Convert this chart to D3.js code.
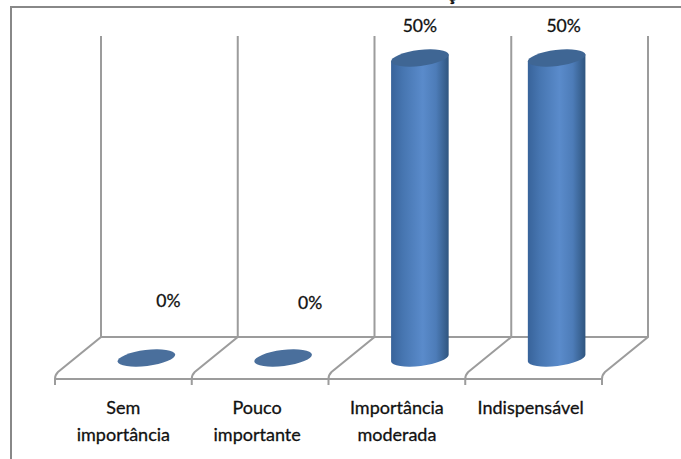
<!DOCTYPE html>
<html lang="pt">
<head>
<meta charset="utf-8">
<title>Grau de importância</title>
<script src="https://cdn.jsdelivr.net/npm/d3@7"></script>
<style>
  html, body { margin: 0; padding: 0; background: #fff; }
  svg { display: block; }
  text { font-family: Lato, "Open Sans", sans-serif; fill: #111; stroke: #111; stroke-width: 0.3px; }
</style>
</head>
<body>
<svg id="chart" width="681" height="459"></svg>
<script>
// Chart data
const categories = ["Sem importância", "Pouco importante", "Importância moderada", "Indispensável"];
const categoryLines = [["Sem", "importância"], ["Pouco", "importante"], ["Importância", "moderada"], ["Indispensável"]];
const percentages = [0, 0, 50, 50];
const valueLabels = ["0%", "0%", "50%", "50%"];

const svg = d3.select("#chart");
const gridColor = "#9c9c9c";

// Outer frame: only the top and left edges fall inside the page
svg.append("path")
  .attr("d", "M681,7H11V459")
  .attr("fill", "none").attr("stroke", "#888").attr("stroke-width", 2);

// End of the heading, cut off by the top of the page
svg.append("text")
  .attr("x", 451.5).attr("y", 1)
  .attr("text-anchor", "middle")
  .attr("font-size", 19).attr("font-weight", 700)
  .text("ç");

// Pseudo-3D floor: front edge is the band scale, back wall is shifted up and right
const frontY = 379, backY = 337, depthX = 46;
const x = d3.scaleBand().domain(categories).range([55, 602]);
const y = d3.scaleLinear().domain([0, 50]).range([358, 58]);
const edges = categories.map(c => x(c)).concat(x.range()[1]);

const grid = svg.append("g").attr("fill", "none").attr("stroke", gridColor).attr("stroke-width", 2);
grid.append("path").attr("d", `M${edges[0] + depthX},${backY}H${edges[4] + depthX}`);
grid.append("path").attr("d", `M${edges[0]},${frontY}H${edges[4]}`);
grid.selectAll("path.edge")
  .data(edges)
  .join("path")
  .attr("class", "edge")
  .attr("d", e => `M${e + depthX},36V${backY}L${e + 3},${frontY - 7}Q${e},${frontY - 4} ${e},${frontY}V385`);

// Cylinder side shading
const defs = svg.append("defs");
const shade = defs.append("linearGradient").attr("id", "cylinderSide");
[[0, "#38639a"], [0.2, "#4675b0"], [0.55, "#5a8bcb"], [0.78, "#4d7cb8"], [1, "#2f557f"]]
  .forEach(([o, c]) => shade.append("stop").attr("offset", o).attr("stop-color", c));

// Tilted elliptical caps
const rx = 29, ry = 8, tilt = -7;
const rad = tilt * Math.PI / 180;
const ex = rx * Math.cos(rad), ey = rx * Math.sin(rad);
const centre = c => x(c) + x.bandwidth() / 2 + depthX / 2;

const bars = svg.append("g");
bars.selectAll("path.side")
  .data(categories.filter((c, i) => percentages[i] > 0))
  .join("path")
  .attr("class", "side")
  .attr("fill", "url(#cylinderSide)")
  .attr("d", c => {
    const v = percentages[categories.indexOf(c)], cx = centre(c);
    return `M${cx - ex},${y(v) - ey}L${cx - ex},${y(0) - ey}` +
      `A${rx},${ry} ${tilt} 0 0 ${cx + ex},${y(0) + ey}` +
      `L${cx + ex},${y(v) + ey}Z`;
  });
bars.selectAll("ellipse")
  .data(categories)
  .join("ellipse")
  .attr("rx", rx).attr("ry", ry)
  .attr("fill", (c, i) => percentages[i] > 0 ? "#3f6694" : "#4a6f9c")
  .attr("transform", (c, i) => `translate(${centre(c)},${y(percentages[i])}) rotate(${tilt})`);

// Value labels sit above each column; the empty ones float clear of the floor
const labelOffset = [[22, -57], [27, -55], [0, -32], [7, -32]];
svg.selectAll("text.value")
  .data(categories)
  .join("text")
  .attr("class", "value")
  .attr("x", (c, i) => centre(c) + labelOffset[i][0])
  .attr("y", (c, i) => y(percentages[i]) + labelOffset[i][1])
  .attr("dy", "0.35em")
  .attr("text-anchor", "middle")
  .attr("font-size", 17.5)
  .text((c, i) => valueLabels[i]);

// Category labels below the floor
const labelShift = [0, -3, 0, -3];
const cats = svg.selectAll("text.category")
  .data(categories)
  .join("text")
  .attr("class", "category")
  .attr("text-anchor", "middle")
  .attr("font-size", 18);
cats.selectAll("tspan")
  .data((c, i) => categoryLines[i].map((line, k) => ({ line, k, i, c })))
  .join("tspan")
  .attr("x", d => x(d.c) + x.bandwidth() / 2 + labelShift[d.i])
  .attr("y", d => 414 + d.k * 27)
  .text(d => d.line);
</script>
</body>
</html>
